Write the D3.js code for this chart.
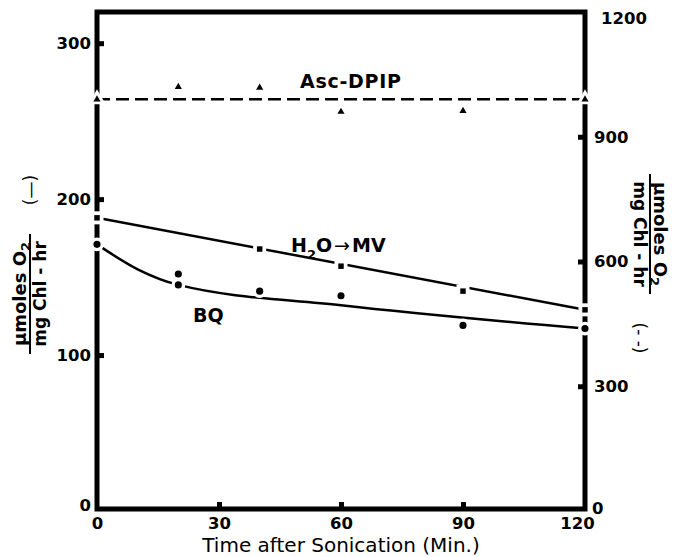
<!DOCTYPE html>
<html>
<head>
<meta charset="utf-8">
<script src="https://cdn.jsdelivr.net/npm/d3@7"></script>
<style>
  body { margin: 0; background: #fff; }
  svg { display: block; font-family: "DejaVu Sans", sans-serif; }
</style>
</head>
<body>
<svg id="chart" width="673" height="557"></svg>
<script>
// minutes after sonication
const bqTime = [0, 20, 20, 40, 60, 90, 120];
const bqRate = [171, 152, 145, 141, 138, 119, 117];
const bqFitTime = [0, 10, 20, 60, 120];
const bqFitRate = [171, 155, 145, 132, 117];

const mvTime = [0, 40, 60, 90, 120];
const mvRate = [188, 168, 157, 141, 129];
const mvFitTime = [0, 120];
const mvFitRate = [188, 129];

// right axis (dashed)
const ascTime = [0, 20, 40, 60, 90, 120];
const ascRate = [990, 1020, 1018, 960, 962, 990];
const ascFitTime = [0, 120];
const ascFitRate = [990, 990];

const xTicks = [0, 30, 60, 90, 120];
const leftTicks = [0, 100, 200, 300];
const rightTicks = [0, 300, 600, 900, 1200];

const svg = d3.select("#chart");

const x = d3.scaleLinear().domain([0, 120]).range([97, 585]);
const yL = d3.scaleLinear().domain([0, 320]).range([511, 12]);
const yR = d3.scaleLinear().domain([0, 1200]).range([511, 12]);

const zip = (a, b) => a.map((d, i) => [d, b[i]]);

// frame
svg.append("path")
    .attr("d", `M${x(0)},${yL(320)} L${x(0)},509 L${x(120)},509 L${x(120)},${yL(320)} Z`)
    .attr("fill", "none")
    .attr("stroke", "#000")
    .attr("stroke-width", 5);

// axes
const gl = svg.append("g")
    .attr("transform", `translate(${x(0)},0)`)
    .call(d3.axisLeft(yL).tickValues(leftTicks).tickSizeInner(-7).tickSizeOuter(0).tickPadding(6));
const gb = svg.append("g")
    .attr("transform", "translate(0,509)")
    .call(d3.axisBottom(x).tickValues(xTicks).tickSizeInner(-7).tickSizeOuter(0).tickPadding(8));
const gr = svg.append("g")
    .attr("transform", `translate(${x(120)},0)`)
    .call(d3.axisRight(yR).tickValues(rightTicks).tickFormat(d3.format("d"))
        .tickSizeInner(-7).tickSizeOuter(0).tickPadding(9));

[gl, gb, gr].forEach(g => {
    g.select(".domain").remove();
    g.selectAll(".tick line").attr("stroke", "#000").attr("stroke-width", 5);
    g.selectAll(".tick text").attr("fill", "#000").attr("font-size", 16.5)
        .attr("font-weight", "bold")
        .attr("font-family", "DejaVu Sans, sans-serif");
});
gl.selectAll(".tick").filter(d => d === 0).select("text").attr("y", -6);
gb.selectAll(".tick").filter(d => d === 120).select("text").attr("x", -8);
gr.selectAll(".tick").filter(d => d === 0).select("text").attr("y", -3).attr("x", 7);
gr.selectAll(".tick").filter(d => d === 1200).select("text").attr("y", 6).attr("x", 16);
gl.selectAll(".tick line").filter(d => d === 0).remove();
gr.selectAll(".tick line").filter(d => d === 0 || d === 1200).remove();
gb.selectAll(".tick line").filter(d => d === 0 || d === 120).remove();

// fitted lines
const lineL = d3.line().x(d => x(d[0])).y(d => yL(d[1]));
const lineR = d3.line().x(d => x(d[0])).y(d => yR(d[1]));

svg.append("path")
    .attr("d", d3.line().x(d => x(d[0])).y(d => yL(d[1])).curve(d3.curveMonotoneX)(zip(bqFitTime, bqFitRate)))
    .attr("fill", "none").attr("stroke", "#000").attr("stroke-width", 2.5);
svg.append("path")
    .attr("d", lineL(zip(mvFitTime, mvFitRate)))
    .attr("fill", "none").attr("stroke", "#000").attr("stroke-width", 2.5);
svg.append("path")
    .attr("d", lineR(zip(ascFitTime, ascFitRate)))
    .attr("fill", "none").attr("stroke", "#000").attr("stroke-width", 2.5)
    .attr("stroke-dasharray", "13,6");

// points with white halo
function drawPoints(data, yScale, type, size, halo) {
    const g = svg.append("g");
    const sym = d3.symbol().type(type);
    g.selectAll("path.halo").data(data).join("path")
        .attr("class", "halo")
        .attr("transform", d => `translate(${x(d[0])},${yScale(d[1])})`)
        .attr("d", sym.size(halo)())
        .attr("fill", "#fff");
    g.selectAll("path.pt").data(data).join("path")
        .attr("class", "pt")
        .attr("transform", d => `translate(${x(d[0])},${yScale(d[1])})`)
        .attr("d", sym.size(size)())
        .attr("fill", "#000");
}
drawPoints(zip(bqTime, bqRate), yL, d3.symbolCircle, 40, 150);
drawPoints(zip(mvTime, mvRate), yL, d3.symbolSquare, 30, 170);
drawPoints(zip(ascTime, ascRate), yR, d3.symbolTriangle, 22, 130);

// series labels
svg.append("text").attr("x", 300).attr("y", 88)
    .attr("font-size", 19).attr("font-weight", "bold")
    .attr("textLength", 101).text("Asc-DPIP");

const mv = svg.append("text").attr("x", 291).attr("y", 252)
    .attr("font-size", 19).attr("font-weight", "bold");
mv.append("tspan").text("H");
mv.append("tspan").attr("font-size", 13).attr("dy", 7).text("2");
mv.append("tspan").attr("dy", -7).text("O");
mv.append("tspan").attr("dx", 2).attr("font-weight", "normal").text("\u2192");
mv.append("tspan").attr("dx", 2).text("MV");

svg.append("text").attr("x", 193).attr("y", 322)
    .attr("font-size", 19).attr("font-weight", "bold").text("BQ");

// axis titles
svg.append("text").attr("x", 341).attr("y", 552)
    .attr("text-anchor", "middle").attr("font-size", 20)
    .text("Time after Sonication (Min.)");

function rateTitle(cx, cy, angle) {
    const g = svg.append("g").attr("transform", `translate(${cx},${cy}) rotate(${angle})`)
        .attr("font-weight", "bold");
    const top = g.append("text").attr("text-anchor", "middle").attr("y", -4).attr("font-size", 18);
    top.append("tspan").text("\u03bcmoles O");
    top.append("tspan").attr("font-size", 13).attr("dy", 4).text("2");
    g.append("line").attr("x1", -60).attr("x2", 60)
        .attr("stroke", "#000").attr("stroke-width", 2);
    g.append("text").attr("text-anchor", "middle").attr("y", 16).attr("font-size", 17)
        .text("mg Chl - hr");
}
rateTitle(30, 294, -90);
rateTitle(650, 234, 90);

svg.append("text").attr("transform", "translate(36,190) rotate(-90)")
    .attr("text-anchor", "middle").attr("font-size", 17).text("(\u2014)");
svg.append("text").attr("transform", "translate(634,338) rotate(90)")
    .attr("text-anchor", "middle").attr("font-size", 17).text("(- -)");
</script>
</body>
</html>
